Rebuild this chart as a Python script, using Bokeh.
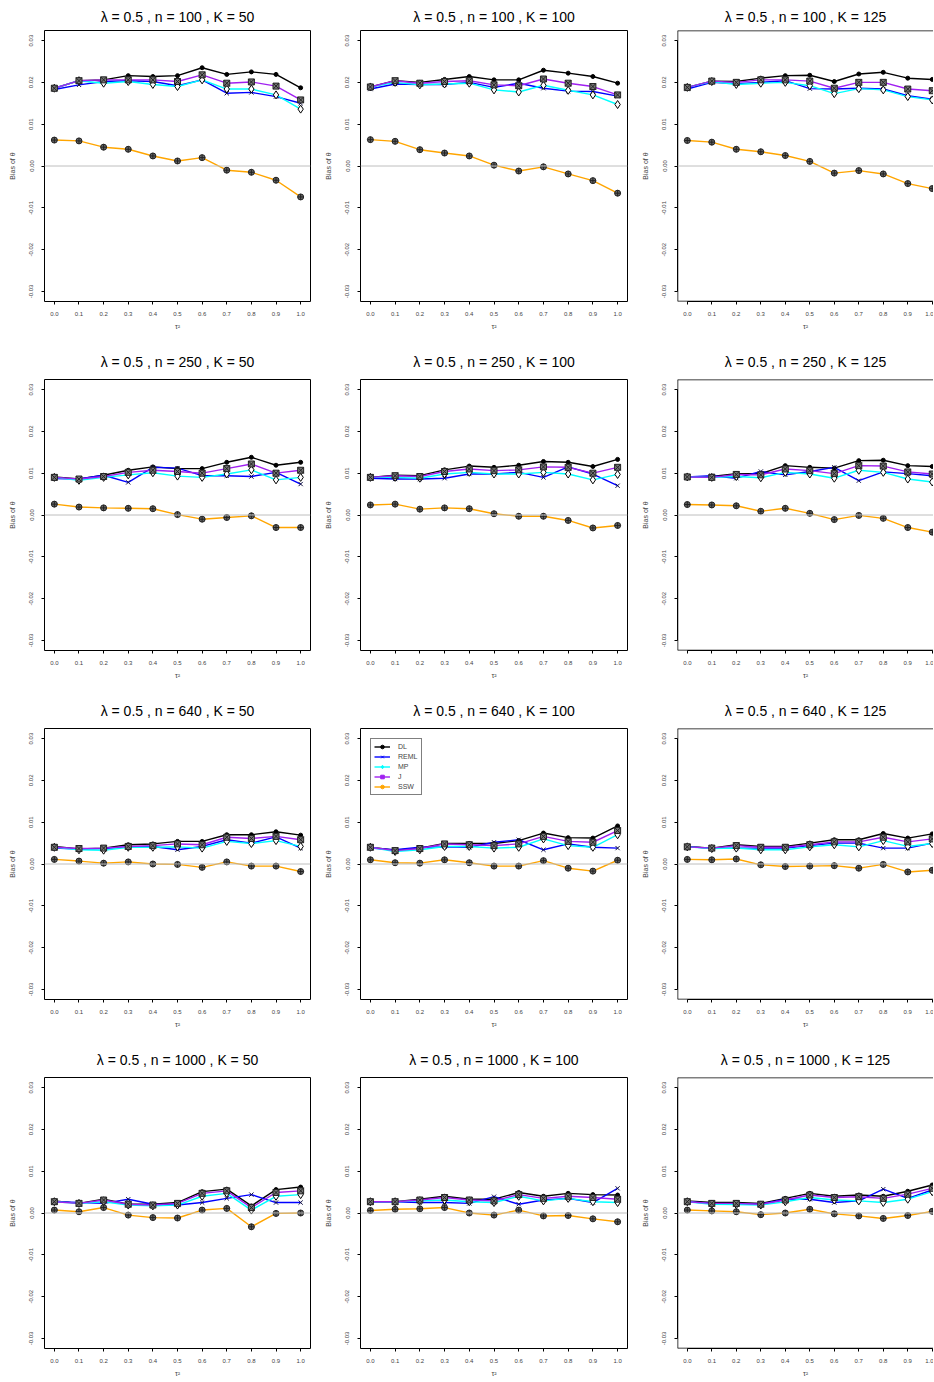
from bokeh.plotting import figure
from bokeh.layouts import gridplot
from bokeh.models import Range1d, FixedTicker, PrintfTickFormatter, Span, Legend, LegendItem, Title
from bokeh.embed import file_html
from bokeh.resources import INLINE

# ---------------- data ----------------
tau2 = [0.0, 0.1, 0.2, 0.3, 0.4, 0.5, 0.6, 0.7, 0.8, 0.9, 1.0]
y_ticks = [-0.03, -0.02, -0.01, 0.0, 0.01, 0.02, 0.03]
lam = 0.5
n_values = [100, 250, 640, 1000]
k_values = [50, 100, 125]
methods = ["DL", "REML", "MP", "J", "SSW"]

# n = 100
dl_n100_k50 = [0.0186, 0.0204, 0.0206, 0.0216, 0.0214, 0.0216, 0.0235, 0.0219, 0.0225, 0.0219, 0.0187]
reml_n100_k50 = [0.0183, 0.0194, 0.0202, 0.0204, 0.0202, 0.0192, 0.0206, 0.0174, 0.0176, 0.0166, 0.0150]
mp_n100_k50 = [0.0186, 0.0204, 0.0198, 0.0202, 0.0195, 0.0190, 0.0206, 0.0184, 0.0184, 0.0170, 0.0136]
j_n100_k50 = [0.0186, 0.0204, 0.0206, 0.0206, 0.0206, 0.0202, 0.0218, 0.0198, 0.0201, 0.0191, 0.0158]
ssw_n100_k50 = [0.0062, 0.0060, 0.0045, 0.0040, 0.0024, 0.0012, 0.0020, -0.0010, -0.0015, -0.0034, -0.0074]

dl_n100_k100 = [0.0189, 0.0204, 0.0200, 0.0207, 0.0214, 0.0206, 0.0206, 0.0229, 0.0222, 0.0214, 0.0198]
reml_n100_k100 = [0.0184, 0.0196, 0.0195, 0.0195, 0.0200, 0.0188, 0.0198, 0.0186, 0.0179, 0.0178, 0.0167]
mp_n100_k100 = [0.0189, 0.0200, 0.0194, 0.0196, 0.0198, 0.0182, 0.0177, 0.0193, 0.0181, 0.0170, 0.0147]
j_n100_k100 = [0.0189, 0.0204, 0.0198, 0.0202, 0.0204, 0.0194, 0.0192, 0.0208, 0.0198, 0.0190, 0.0170]
ssw_n100_k100 = [0.0063, 0.0059, 0.0039, 0.0031, 0.0024, 0.0002, -0.0012, -0.0002, -0.0019, -0.0035, -0.0065]

dl_n100_k125 = [0.0188, 0.0203, 0.0202, 0.0210, 0.0216, 0.0217, 0.0202, 0.0220, 0.0224, 0.0210, 0.0207]
reml_n100_k125 = [0.0184, 0.0200, 0.0197, 0.0200, 0.0204, 0.0185, 0.0184, 0.0186, 0.0184, 0.0168, 0.0160]
mp_n100_k125 = [0.0188, 0.0202, 0.0195, 0.0198, 0.0200, 0.0192, 0.0173, 0.0185, 0.0182, 0.0166, 0.0158]
j_n100_k125 = [0.0188, 0.0203, 0.0200, 0.0206, 0.0206, 0.0203, 0.0186, 0.0200, 0.0200, 0.0184, 0.0180]
ssw_n100_k125 = [0.0061, 0.0057, 0.0040, 0.0034, 0.0025, 0.0011, -0.0017, -0.0011, -0.0019, -0.0042, -0.0054]

# n = 250
dl_n250_k50 = [0.0091, 0.0086, 0.0095, 0.0107, 0.0115, 0.0111, 0.0111, 0.0126, 0.0138, 0.0119, 0.0126]
reml_n250_k50 = [0.0087, 0.0086, 0.0095, 0.0078, 0.0114, 0.0112, 0.0094, 0.0094, 0.0092, 0.0102, 0.0074]
mp_n250_k50 = [0.0090, 0.0083, 0.0090, 0.0096, 0.0101, 0.0093, 0.0090, 0.0098, 0.0108, 0.0084, 0.0090]
j_n250_k50 = [0.0090, 0.0086, 0.0092, 0.0102, 0.0107, 0.0104, 0.0100, 0.0111, 0.0122, 0.0100, 0.0107]
ssw_n250_k50 = [0.0026, 0.0019, 0.0017, 0.0016, 0.0015, 0.0001, -0.0010, -0.0006, -0.0002, -0.0030, -0.0030]

dl_n250_k100 = [0.0090, 0.0095, 0.0094, 0.0108, 0.0117, 0.0114, 0.0119, 0.0128, 0.0126, 0.0116, 0.0133]
reml_n250_k100 = [0.0088, 0.0086, 0.0086, 0.0088, 0.0098, 0.0098, 0.0102, 0.0090, 0.0115, 0.0098, 0.0070]
mp_n250_k100 = [0.0090, 0.0090, 0.0088, 0.0098, 0.0102, 0.0098, 0.0098, 0.0102, 0.0098, 0.0084, 0.0097]
j_n250_k100 = [0.0090, 0.0094, 0.0092, 0.0104, 0.0110, 0.0106, 0.0108, 0.0115, 0.0114, 0.0100, 0.0114]
ssw_n250_k100 = [0.0024, 0.0026, 0.0014, 0.0017, 0.0015, 0.0003, -0.0003, -0.0003, -0.0013, -0.0031, -0.0025]

dl_n250_k125 = [0.0091, 0.0092, 0.0099, 0.0099, 0.0118, 0.0114, 0.0112, 0.0130, 0.0131, 0.0118, 0.0116]
reml_n250_k125 = [0.0091, 0.0094, 0.0088, 0.0104, 0.0096, 0.0104, 0.0114, 0.0082, 0.0103, 0.0099, 0.0094]
mp_n250_k125 = [0.0091, 0.0090, 0.0092, 0.0089, 0.0102, 0.0098, 0.0088, 0.0107, 0.0102, 0.0086, 0.0079]
j_n250_k125 = [0.0091, 0.0090, 0.0097, 0.0096, 0.0110, 0.0106, 0.0099, 0.0118, 0.0117, 0.0103, 0.0098]
ssw_n250_k125 = [0.0025, 0.0024, 0.0022, 0.0009, 0.0016, 0.0004, -0.0011, -0.0001, -0.0008, -0.0030, -0.0041]

# n = 640
dl_n640_k50 = [0.0042, 0.0036, 0.0038, 0.0046, 0.0048, 0.0054, 0.0054, 0.0070, 0.0070, 0.0077, 0.0069]
reml_n640_k50 = [0.0038, 0.0036, 0.0037, 0.0041, 0.0042, 0.0034, 0.0042, 0.0058, 0.0050, 0.0065, 0.0038]
mp_n640_k50 = [0.0040, 0.0034, 0.0033, 0.0040, 0.0040, 0.0041, 0.0038, 0.0054, 0.0049, 0.0056, 0.0042]
j_n640_k50 = [0.0040, 0.0037, 0.0038, 0.0042, 0.0044, 0.0048, 0.0046, 0.0064, 0.0061, 0.0066, 0.0058]
ssw_n640_k50 = [0.0011, 0.0007, 0.0002, 0.0005, 0.0000, -0.0001, -0.0008, 0.0005, -0.0005, -0.0005, -0.0018]

dl_n640_k100 = [0.0040, 0.0033, 0.0038, 0.0049, 0.0049, 0.0049, 0.0056, 0.0074, 0.0063, 0.0062, 0.0091]
reml_n640_k100 = [0.0038, 0.0034, 0.0040, 0.0041, 0.0040, 0.0052, 0.0058, 0.0034, 0.0048, 0.0040, 0.0038]
mp_n640_k100 = [0.0040, 0.0030, 0.0034, 0.0042, 0.0042, 0.0038, 0.0040, 0.0060, 0.0044, 0.0040, 0.0070]
j_n640_k100 = [0.0040, 0.0032, 0.0037, 0.0048, 0.0046, 0.0044, 0.0048, 0.0066, 0.0054, 0.0052, 0.0080]
ssw_n640_k100 = [0.0010, 0.0003, 0.0002, 0.0010, 0.0003, -0.0005, -0.0005, 0.0008, -0.0010, -0.0017, 0.0009]

dl_n640_k125 = [0.0042, 0.0038, 0.0046, 0.0042, 0.0042, 0.0050, 0.0058, 0.0058, 0.0073, 0.0062, 0.0072]
reml_n640_k125 = [0.0041, 0.0038, 0.0038, 0.0038, 0.0038, 0.0044, 0.0050, 0.0050, 0.0038, 0.0038, 0.0050]
mp_n640_k125 = [0.0041, 0.0037, 0.0038, 0.0034, 0.0034, 0.0041, 0.0046, 0.0041, 0.0056, 0.0042, 0.0049]
j_n640_k125 = [0.0041, 0.0038, 0.0044, 0.0040, 0.0040, 0.0046, 0.0053, 0.0053, 0.0064, 0.0053, 0.0060]
ssw_n640_k125 = [0.0011, 0.0010, 0.0012, -0.0002, -0.0006, -0.0005, -0.0004, -0.0010, -0.0001, -0.0019, -0.0015]

# n = 1000
dl_n1000_k50 = [0.0029, 0.0023, 0.0033, 0.0021, 0.0021, 0.0025, 0.0051, 0.0057, 0.0017, 0.0056, 0.0062]
reml_n1000_k50 = [0.0027, 0.0025, 0.0023, 0.0033, 0.0021, 0.0019, 0.0025, 0.0035, 0.0044, 0.0025, 0.0025]
mp_n1000_k50 = [0.0027, 0.0023, 0.0027, 0.0019, 0.0017, 0.0019, 0.0040, 0.0047, 0.0007, 0.0040, 0.0044]
j_n1000_k50 = [0.0027, 0.0023, 0.0031, 0.0021, 0.0019, 0.0023, 0.0047, 0.0053, 0.0013, 0.0049, 0.0053]
ssw_n1000_k50 = [0.0007, 0.0003, 0.0013, -0.0005, -0.0011, -0.0012, 0.0007, 0.0011, -0.0033, -0.0001, 0.0000]

dl_n1000_k100 = [0.0027, 0.0027, 0.0033, 0.0040, 0.0033, 0.0033, 0.0049, 0.0040, 0.0047, 0.0044, 0.0043]
reml_n1000_k100 = [0.0027, 0.0027, 0.0025, 0.0025, 0.0023, 0.0039, 0.0021, 0.0031, 0.0035, 0.0025, 0.0059]
mp_n1000_k100 = [0.0027, 0.0027, 0.0029, 0.0031, 0.0027, 0.0025, 0.0040, 0.0029, 0.0035, 0.0027, 0.0025]
j_n1000_k100 = [0.0027, 0.0027, 0.0031, 0.0037, 0.0031, 0.0029, 0.0044, 0.0035, 0.0040, 0.0037, 0.0033]
ssw_n1000_k100 = [0.0006, 0.0009, 0.0010, 0.0013, 0.0000, -0.0005, 0.0007, -0.0007, -0.0006, -0.0014, -0.0021]

dl_n1000_k125 = [0.0029, 0.0025, 0.0025, 0.0023, 0.0035, 0.0047, 0.0040, 0.0043, 0.0040, 0.0052, 0.0067]
reml_n1000_k125 = [0.0027, 0.0023, 0.0021, 0.0021, 0.0033, 0.0033, 0.0025, 0.0029, 0.0057, 0.0035, 0.0055]
mp_n1000_k125 = [0.0027, 0.0021, 0.0020, 0.0019, 0.0027, 0.0037, 0.0031, 0.0029, 0.0025, 0.0033, 0.0051]
j_n1000_k125 = [0.0027, 0.0023, 0.0023, 0.0021, 0.0031, 0.0043, 0.0037, 0.0039, 0.0035, 0.0045, 0.0059]
ssw_n1000_k125 = [0.0007, 0.0005, 0.0003, -0.0004, 0.0000, 0.0009, -0.0002, -0.0007, -0.0013, -0.0006, 0.0004]

panel_data = [
    [[dl_n100_k50, reml_n100_k50, mp_n100_k50, j_n100_k50, ssw_n100_k50],
     [dl_n100_k100, reml_n100_k100, mp_n100_k100, j_n100_k100, ssw_n100_k100],
     [dl_n100_k125, reml_n100_k125, mp_n100_k125, j_n100_k125, ssw_n100_k125]],
    [[dl_n250_k50, reml_n250_k50, mp_n250_k50, j_n250_k50, ssw_n250_k50],
     [dl_n250_k100, reml_n250_k100, mp_n250_k100, j_n250_k100, ssw_n250_k100],
     [dl_n250_k125, reml_n250_k125, mp_n250_k125, j_n250_k125, ssw_n250_k125]],
    [[dl_n640_k50, reml_n640_k50, mp_n640_k50, j_n640_k50, ssw_n640_k50],
     [dl_n640_k100, reml_n640_k100, mp_n640_k100, j_n640_k100, ssw_n640_k100],
     [dl_n640_k125, reml_n640_k125, mp_n640_k125, j_n640_k125, ssw_n640_k125]],
    [[dl_n1000_k50, reml_n1000_k50, mp_n1000_k50, j_n1000_k50, ssw_n1000_k50],
     [dl_n1000_k100, reml_n1000_k100, mp_n1000_k100, j_n1000_k100, ssw_n1000_k100],
     [dl_n1000_k125, reml_n1000_k125, mp_n1000_k125, j_n1000_k125, ssw_n1000_k125]],
]

# ---------------- styles ----------------
FONT = "Liberation Sans"
line_colors = {"DL": "#000000", "REML": "#0000FF", "MP": "#00FFFF", "J": "#A020F0", "SSW": "#FFA500"}
plot_marker = {
    "DL": dict(marker="circle", size=4, line_color="#000000", fill_color="#000000"),
    "REML": dict(marker="x", size=6, line_color="#101040", fill_color=None),
    "MP": dict(marker="diamond", size=8, line_color="#000000", fill_color="#FFFFFF"),
    "J": dict(marker="square_x", size=6, line_color="#222222", fill_color="#777777"),
    "SSW": dict(marker="circle_cross", size=6, line_color="#222222", fill_color="#666666"),
}
legend_marker = {
    "DL": dict(marker="circle", size=4, line_color="#000000", fill_color="#000000"),
    "REML": dict(marker="x", size=6, line_color="#0000FF", fill_color=None),
    "MP": dict(marker="diamond", size=7, line_color="#00FFFF", fill_color="#00FFFF"),
    "J": dict(marker="square", size=5, line_color="#A020F0", fill_color="#A020F0"),
    "SSW": dict(marker="circle", size=5, line_color="#FFA500", fill_color="#FFA500"),
}

Y_LO, Y_HI = -0.0324, 0.0324

# (width, border_left, border_right, x_end)
col_spec = [(317, 44, 7, 1.04), (317, 43, 7, 1.04), (299, 43, 0, 1.005)]
# (height, border_top, border_bottom, title_standoff)
row_spec = [(341, 30, 40, 11), (349, 38, 40, 19), (349, 38, 40, 19), (342, 38, 33, 19)]

rows = []
for ri, n in enumerate(n_values):
    row_figs = []
    for ci, k in enumerate(k_values):
        w, bl, br, xend = col_spec[ci]
        h, bt, bb, tso = row_spec[ri]
        ttl = Title(text=f"λ = {lam} , n = {n} , K = {k}", align="center",
                    standoff=tso, text_font=FONT, text_font_size="14px",
                    text_font_style="normal", text_color="#000000")
        p = figure(width=w, height=h, output_backend="svg", toolbar_location=None,
                   x_range=Range1d(-0.04, xend), y_range=Range1d(Y_LO, Y_HI),
                   min_border_left=bl, min_border_right=br, min_border_top=bt, min_border_bottom=bb,
                   title=ttl)
        p.xgrid.visible = False
        p.ygrid.visible = False
        p.background_fill_color = "white"
        p.border_fill_color = "white"
        if ci < 2:
            p.outline_line_color = "#000000"
            p.outline_line_width = 1
        else:
            p.outline_line_color = None
            p.add_layout(Span(location=Y_HI, dimension="width", line_color="#000000", line_width=1.5))
            p.add_layout(Span(location=Y_LO, dimension="width", line_color="#000000", line_width=1.5))
            p.add_layout(Span(location=-0.04, dimension="height", line_color="#000000", line_width=1.5))

        # axes
        xa = p.xaxis[0]
        xa.ticker = FixedTicker(ticks=tau2)
        xa.formatter = PrintfTickFormatter(format="%.1f")
        xa.bounds = (0, 1)
        xa.axis_label = "τ²"
        xa.axis_label_text_font = FONT
        xa.axis_label_text_font_size = "7px"
        xa.axis_label_text_font_style = "normal"
        xa.major_label_text_font = FONT
        xa.major_label_text_font_size = "6px"
        xa.major_tick_out = 3
        xa.major_tick_in = 0
        xa.minor_tick_out = 0
        xa.minor_tick_in = 0
        xa.major_label_standoff = 7
        xa.axis_label_standoff = 4

        ya = p.yaxis[0]
        ya.ticker = FixedTicker(ticks=y_ticks)
        ya.formatter = PrintfTickFormatter(format="%.2f")
        ya.bounds = (-0.03, 0.03)
        ya.axis_label = "Bias of θ"
        ya.axis_label_text_font = FONT
        ya.axis_label_text_font_size = "7px"
        ya.axis_label_text_font_style = "normal"
        ya.major_label_text_font = FONT
        ya.major_label_text_font_size = "6px"
        ya.major_label_orientation = "vertical"
        ya.major_tick_out = 3
        ya.major_tick_in = 0
        ya.minor_tick_out = 0
        ya.minor_tick_in = 0
        ya.major_label_standoff = 8
        ya.axis_label_standoff = 11

        p.add_layout(Span(location=0, dimension="width", line_color="#BEBEBE", line_width=1))

        series = panel_data[ri][ci]
        for m, ys in zip(methods, series):
            p.line(tau2, ys, line_color=line_colors[m], line_width=1.4)
        for m, ys in zip(methods, series):
            p.scatter(tau2, ys, line_width=1, **plot_marker[m])

        if ri == 2 and ci == 1:
            # off-range proxy renderers so the legend shows coloured glyphs
            items = []
            for m in methods:
                lr = p.line([-5, -4], [-5, -5], line_color=line_colors[m], line_width=1.4)
                sr = p.scatter([-5], [-5], line_width=1, **legend_marker[m])
                items.append(LegendItem(label=m, renderers=[lr, sr]))
            leg = Legend(items=items, location="top_left", margin=10, padding=3, spacing=1,
                         glyph_width=16, glyph_height=9, label_height=9, label_standoff=8,
                         label_text_font=FONT, label_text_font_size="7px",
                         border_line_color="#000000", border_line_width=1,
                         background_fill_color="white", background_fill_alpha=1)
            p.add_layout(leg)
        row_figs.append(p)
    rows.append(row_figs)

layout = gridplot(rows, toolbar_location=None)
open("out.html", "w").write(file_html(layout, INLINE))
